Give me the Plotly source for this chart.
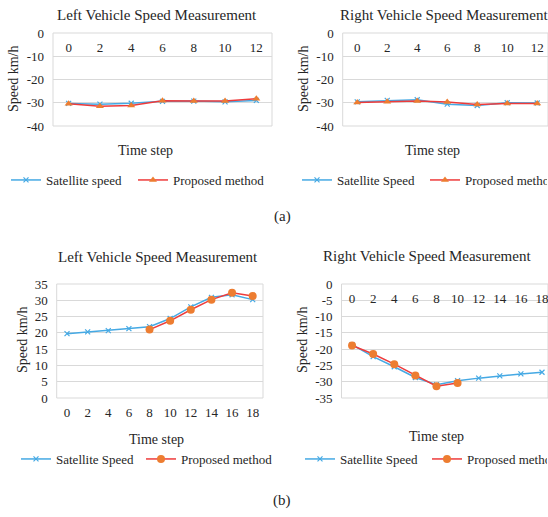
import plotly.graph_objects as go

W, H = 548, 517

# ---------------- data ----------------
steps_a = [0, 2, 4, 6, 8, 10, 12]
a_left_sat = [-30.3, -30.6, -30.2, -29.4, -29.3, -29.6, -29.0]
a_left_prop = [-30.4, -31.5, -31.2, -29.1, -29.3, -29.3, -28.3]
a_right_sat = [-29.6, -29.0, -28.7, -30.6, -31.2, -30.0, -30.1]
a_right_prop = [-29.9, -29.6, -29.3, -29.7, -30.7, -30.3, -30.3]

steps_b = [0, 2, 4, 6, 8, 10, 12, 14, 16, 18]
b_left_sat = [19.75, 20.3, 20.7, 21.3, 21.9, 24.4, 28.0, 30.9, 31.7, 30.2]
steps_b_left_prop = [8, 10, 12, 14, 16, 18]
b_left_prop = [21.0, 23.7, 27.1, 30.2, 32.3, 31.3]
b_right_sat = [-18.6, -22.3, -25.4, -28.7, -30.9, -29.7, -28.9, -28.2, -27.6, -27.1]
steps_b_right_prop = [0, 2, 4, 6, 8, 10]
b_right_prop = [-18.9, -21.5, -24.6, -28.1, -31.4, -30.4]

yticks_a = [0, -10, -20, -30, -40]
yticks_b_left = [0, 5, 10, 15, 20, 25, 30, 35]
yticks_b_right = [0, -5, -10, -15, -20, -25, -30, -35]

title_left = "Left Vehicle Speed Measurement"
title_right = "Right Vehicle Speed Measurement"

# ---------------- style ----------------
FONT = "Liberation Serif, Times New Roman, serif"
BLUE = "#45a9e4"
RED = "#ee3b3b"
ORANGE = "#ed7d31"
GRID = "#d9d9d9"
TXT = "#262626"


def px(x):
    return x / W


def py(y):
    return 1 - y / H


fig = go.Figure()


def add_sat(x, y, xa, ya, name, legend):
    fig.add_trace(go.Scatter(
        x=x, y=y, xaxis=xa, yaxis=ya, name=name, legend=legend,
        mode="lines+markers",
        line=dict(color=BLUE, width=1.5),
        marker=dict(symbol="x-thin", size=5, color=BLUE,
                    line=dict(color=BLUE, width=1.2)),
    ))


def add_prop(x, y, xa, ya, name, legend, symbol, size):
    fig.add_trace(go.Scatter(
        x=x, y=y, xaxis=xa, yaxis=ya, name=name, legend=legend,
        mode="lines+markers",
        line=dict(color=RED, width=1.5),
        marker=dict(symbol=symbol, size=size, color=ORANGE,
                    line=dict(width=0)),
    ))


add_sat(steps_a, a_left_sat, "x", "y", "Satellite speed", "legend")
add_prop(steps_a, a_left_prop, "x", "y", "Proposed method", "legend2", "triangle-up", 7)
add_sat(steps_a, a_right_sat, "x2", "y2", "Satellite Speed", "legend3")
add_prop(steps_a, a_right_prop, "x2", "y2", "Proposed method", "legend4", "triangle-up", 7)
add_sat(steps_b, b_left_sat, "x3", "y3", "Satellite Speed", "legend5")
add_prop(steps_b_left_prop, b_left_prop, "x3", "y3", "Proposed method", "legend6", "circle", 8)
add_sat(steps_b, b_right_sat, "x4", "y4", "Satellite Speed", "legend7")
add_prop(steps_b_right_prop, b_right_prop, "x4", "y4", "Proposed method", "legend8", "circle", 8)


def xaxis(domain, rng, ticks, pos):
    return dict(domain=domain, range=rng, tickvals=ticks,
                showline=False, showgrid=False, zeroline=False,
                anchor="free", position=pos, side="bottom",
                ticklabelstandoff=5, ticklabeloverflow="allow",
                automargin=False,
                tickfont=dict(family=FONT, size=13, color=TXT), ticks="")


def yaxis(domain, rng, ticks, anchor):
    return dict(domain=domain, range=rng, tickvals=ticks,
                ticktext=[str(t) for t in ticks],
                showline=False, automargin=False,
                showgrid=True, gridcolor=GRID, gridwidth=1, zeroline=False,
                anchor=anchor, ticks="", ticklabelstandoff=8,
                tickfont=dict(family=FONT, size=13, color=TXT))


ya_dom = [py(126), py(33)]
yb_dom = [py(398), py(284)]

fig.update_layout(
    width=W, height=H,
    margin=dict(l=0, r=0, t=0, b=0, autoexpand=False),
    paper_bgcolor="white", plot_bgcolor="white",
    font=dict(family=FONT, color=TXT),
    showlegend=True,
    xaxis=xaxis([px(53), px(272)], [-1, 13], steps_a, py(33)),
    yaxis=yaxis(ya_dom, [-40, 0], yticks_a, "x"),
    xaxis2=xaxis([px(342.7), 1.0], [-0.97, 12.72], steps_a, py(33)),
    yaxis2=yaxis(ya_dom, [-40, 0], yticks_a, "x2"),
    xaxis3=xaxis([px(56.7), px(263)], [-1, 19], steps_b, py(398)),
    yaxis3=yaxis(yb_dom, [0, 35], yticks_b_left, "x3"),
    xaxis4=xaxis([px(341.5), 1.0], [-1, 18.57], steps_b, py(284)),
    yaxis4=yaxis(yb_dom, [-35, 0], yticks_b_right, "x4"),
)

# plot-area borders
shapes = []
for xr, yr in [("x", "y"), ("x2", "y2"), ("x3", "y3"), ("x4", "y4")]:
    shapes.append(dict(type="rect", xref=xr + " domain", yref=yr + " domain",
                       x0=0, x1=1, y0=0, y1=1,
                       line=dict(color=GRID, width=1), layer="below"))
fig.update_layout(shapes=shapes)

leg_common = dict(orientation="h", xanchor="left", yanchor="middle",
                  bgcolor="rgba(0,0,0,0)", borderwidth=0,
                  font=dict(family=FONT, size=13, color=TXT), itemwidth=30)
legend_pos = {
    "legend": (6, 180), "legend2": (133, 180),
    "legend3": (297, 180), "legend4": (425, 180),
    "legend5": (16, 459), "legend6": (141, 459),
    "legend7": (300, 459), "legend8": (427, 459),
}
legends = {}
for k, (lx, ly) in legend_pos.items():
    d = dict(x=px(lx), y=py(ly), **leg_common)
    if k in ("legend4", "legend8"):
        # the right-most entries are cut at the figure edge, as in the original
        d.update(entrywidth=W - lx - 46, entrywidthmode="pixels")
    legends[k] = d
fig.update_layout(**legends)

ann = []


def text(x, y, s, size, angle=0):
    ann.append(dict(x=px(x), y=py(y), xref="paper", yref="paper", text=s,
                    showarrow=False, textangle=angle,
                    xanchor="center", yanchor="middle",
                    font=dict(family=FONT, size=size, color=TXT)))


# chart titles
text(157, 15, title_left, 15)
text(444, 15, title_right, 15)
text(158, 257, title_left, 15)
text(427, 256, title_right, 15)
# axis titles
text(145, 150, "Time step", 14)
text(432, 150, "Time step", 14)
text(156, 439, "Time step", 14)
text(436, 436, "Time step", 14)
text(14, 79, "Speed km/h", 14, -90)
text(304, 79, "Speed km/h", 14, -90)
text(22, 340, "Speed km/h", 14, -90)
text(302, 340, "Speed km/h", 14, -90)
# panel labels
text(282, 216, "(a)", 15)
text(282, 500, "(b)", 15)

fig.update_layout(annotations=ann)

fig.write_html(
    "out.html",
    config=dict(displayModeBar=False),
    post_script=(
        "var h=document.documentElement,b=document.body;"
        "h.style.margin='0';h.style.padding='0';h.style.overflow='hidden';"
        "h.style.width='548px';h.style.height='517px';"
        "b.style.margin='0';b.style.padding='0';b.style.overflow='hidden';"
        "b.style.position='relative';b.style.width='548px';b.style.height='517px';"
    ),
)
